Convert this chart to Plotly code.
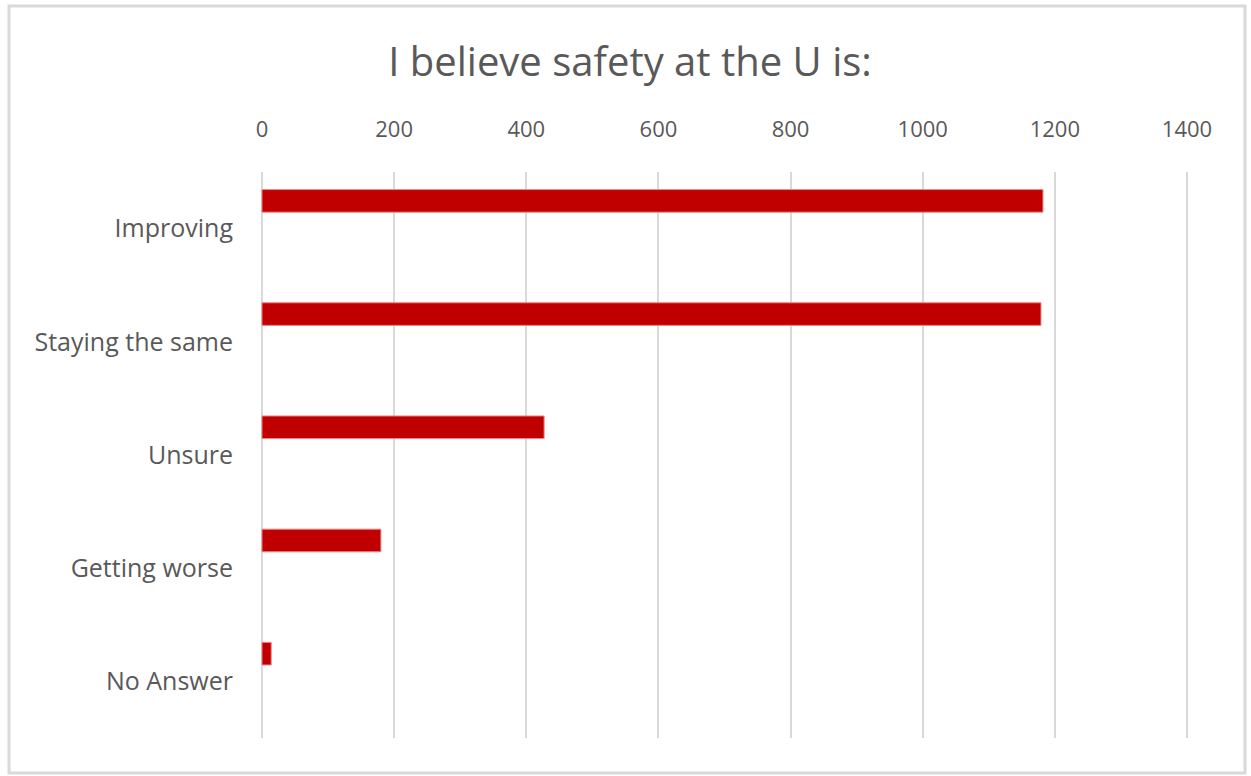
import plotly.graph_objects as go

categories = ["Improving", "Staying the same", "Unsure", "Getting worse", "No Answer"]
values = [1182, 1179, 427, 180, 14]
x_ticks = [0, 200, 400, 600, 800, 1000, 1200, 1400]
title_text = "I believe safety at the U is:"

W, H = 1251, 776
L, R, T, B = 260, 62, 172, 38
pw, ph = W - L - R, H - T - B

def px_x(x):
    return (x - L) / pw

def px_y(y):
    return (H - B - y) / ph

fig = go.Figure()
fig.add_trace(go.Bar(
    y=categories, x=values, orientation="h",
    marker=dict(color="#c00000", line=dict(color="#e88", width=1)),
    width=0.2, offset=-0.345, showlegend=False, hoverinfo="x+y",
))

fig.update_layout(
    width=W, height=H,
    margin=dict(l=L, r=R, t=T, b=B),
    paper_bgcolor="white", plot_bgcolor="white",
    font=dict(family="Open Sans, Lato, sans-serif", color="#595959"),
    title=dict(text=title_text, xref="container", x=630 / W, xanchor="center",
               yref="container", y=1 - 62 / H, yanchor="middle",
               font=dict(size=40, color="#595959")),
    xaxis=dict(side="top", range=[-3, 1403], tickvals=x_ticks, ticktext=[str(v) for v in x_ticks],
               showgrid=True, gridcolor="#d9d9d9", gridwidth=2, zeroline=False,
               showline=False, ticks="", tickfont=dict(size=22, color="#595959"),
               ticklabelstandoff=30),
    yaxis=dict(type="category", categoryorder="array", categoryarray=categories,
               range=[4.5, -0.5], showgrid=False, zeroline=False, showline=False,
               ticks="", tickfont=dict(size=25, color="#595959"),
               ticklabelstandoff=26),
    shapes=[dict(type="rect", xref="paper", yref="paper",
                 x0=px_x(9), x1=px_x(1245), y0=px_y(773), y1=px_y(6),
                 line=dict(color="#d9d9d9", width=3), fillcolor="rgba(0,0,0,0)", layer="below")],
)

fig.write_html("out.html", config={"displayModeBar": False},
               post_script="document.body.style.margin='0';document.body.style.overflow='hidden';")
